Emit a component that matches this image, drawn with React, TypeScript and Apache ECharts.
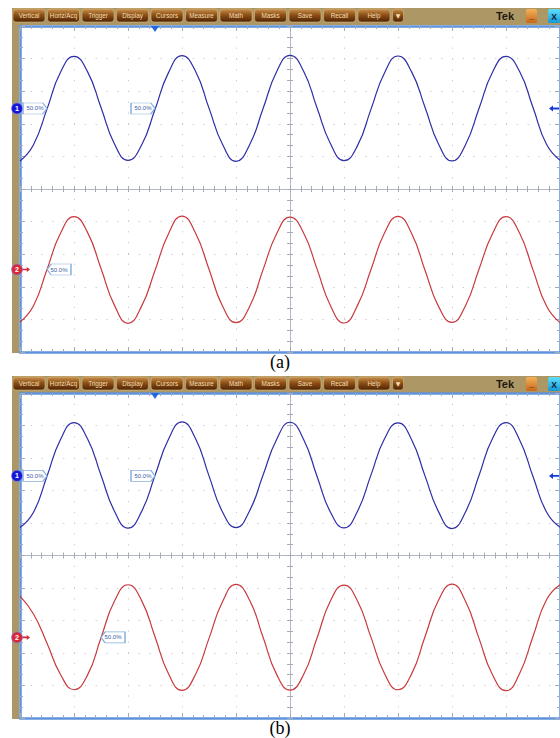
import React, { useEffect, useRef } from 'react';
import * as echarts from 'echarts';

// horizontal position in divisions (10 divisions, centre = 0)
const timeDiv = [
  -5, -4.75, -4.5, -4.25, -4, -3.75, -3.5, -3.25, -3, -2.75, -2.5, -2.25, -2, -1.75, -1.5, -1.25,
  -1, -0.75, -0.5, -0.25, 0, 0.25, 0.5, 0.75, 1, 1.25, 1.5, 1.75, 2, 2.25, 2.5, 2.75, 3, 3.25,
  3.5, 3.75, 4, 4.25, 4.5, 4.75, 5,
];

// (a) channel 1 (blue) and channel 2 (red), vertical divisions
const ch1A = [
  0.86, 1.36, 2.45, 3.58, 4.07, 3.6, 2.5, 1.38, 0.88, 1.34, 2.44, 3.57, 4.09, 3.61, 2.48, 1.37,
  0.85, 1.35, 2.46, 3.59, 4.1, 3.62, 2.49, 1.39, 0.87, 1.33, 2.45, 3.56, 4.08, 3.6, 2.51, 1.38,
  0.86, 1.36, 2.47, 3.58, 4.07, 3.61, 2.5, 1.37, 0.88,
];
const ch2A = [
  -4.08, -3.58, -2.47, -1.36, -0.85, -1.33, -2.44, -3.57, -4.12, -3.6, -2.5, -1.37, -0.83, -1.35,
  -2.46, -3.59, -4.1, -3.61, -2.48, -1.38, -0.86, -1.34, -2.45, -3.58, -4.11, -3.57, -2.47, -1.35,
  -0.84, -1.36, -2.49, -3.6, -4.09, -3.58, -2.46, -1.37, -0.85, -1.35, -2.48, -3.59, -4.1,
];
// (b)
const ch1B = [
  0.86, 1.33, 2.44, 3.57, 4.09, 3.59, 2.47, 1.36, 0.84, 1.35, 2.46, 3.58, 4.11, 3.6, 2.45, 1.34,
  0.86, 1.37, 2.47, 3.56, 4.1, 3.58, 2.44, 1.33, 0.85, 1.36, 2.48, 3.59, 4.08, 3.57, 2.45, 1.35,
  0.83, 1.34, 2.46, 3.6, 4.09, 3.56, 2.43, 1.34, 0.87,
];
const ch2B = [
  -1.25, -1.8, -2.7, -3.66, -4.13, -3.68, -2.53, -1.4, -0.9, -1.38, -2.5, -3.64, -4.15, -3.66,
  -2.55, -1.42, -0.89, -1.37, -2.51, -3.65, -4.14, -3.67, -2.54, -1.39, -0.91, -1.4, -2.52, -3.63,
  -4.13, -3.65, -2.5, -1.38, -0.88, -1.41, -2.55, -3.67, -4.16, -3.64, -2.49, -1.36, -0.9,
];

const menuItems = ['Vertical', 'Horiz/Acq', 'Trigger', 'Display', 'Cursors', 'Measure', 'Math', 'Masks', 'Save', 'Recall', 'Help', '▼'];
const captions = ['(a)', '(b)'];
const levelText = '50.0%';
const channelNames = ['1', '2'];
// channel reference levels (divisions) per panel
const levelsA = [2.47, -2.47];
const levelsB = [2.45, -2.52];
// where each trace crosses its 50 % level next to the label
const crossA = [-4.5, -4.5];
const crossB = [-4.5, -3.5];
const triggerPos = -2.5;

const BLUE = '#2e2ea6';
const RED = '#c83a3e';
const TAN = '#ad9765';
const BORDER = '#5f92dc';
const TICK = '#a3abb9';

function axes(gridIndex: number, dim: 'x' | 'y') {
  const isX = dim === 'x';
  const common: any = {
    type: 'value',
    gridIndex,
    min: -5,
    max: 5,
    interval: 1,
    axisLabel: { show: false },
    minorTick: { show: true, splitNumber: isX ? 5 : 3, length: 3, lineStyle: { color: TICK, width: 1 } },
  };
  const borderTick = { show: true, inside: true, length: 5, lineStyle: { color: TICK, width: 1 } };
  const centerTick = { show: true, inside: true, length: 3, lineStyle: { color: TICK, width: 1 } };
  const centerMinor = { show: true, splitNumber: isX ? 5 : 3, length: 3, lineStyle: { color: TICK, width: 1 } };
  return [
    {
      ...common,
      position: isX ? 'bottom' : 'left',
      axisLine: { show: true, onZero: false, lineStyle: { color: BORDER, width: 2.5 } },
      axisTick: borderTick,
      splitLine: { show: true, lineStyle: { color: '#c4c8cf', width: 1, type: [1.2, 9.6] } },
    },
    {
      ...common,
      position: isX ? 'top' : 'right',
      axisLine: { show: true, onZero: false, lineStyle: { color: BORDER, width: 2.5 } },
      axisTick: borderTick,
      splitLine: { show: false },
    },
    {
      ...common,
      position: isX ? 'bottom' : 'left',
      axisLine: { show: true, onZero: true, lineStyle: { color: '#b3b8c2', width: 1 } },
      axisTick: centerTick,
      minorTick: centerMinor,
      splitLine: { show: false },
    },
    {
      ...common,
      position: isX ? 'top' : 'right',
      axisLine: { show: false, onZero: true },
      axisTick: centerTick,
      minorTick: centerMinor,
      splitLine: { show: false },
    },
  ];
}

const labelRight = 'path://M0,0L19,0L23,5L19,10L0,10Z';
const labelLeft = 'path://M4,0L23,0L23,10L4,10L0,5Z';

function levelLabel(coord: number[], pointLeft: boolean) {
  return {
    coord,
    symbol: pointLeft ? labelLeft : labelRight,
    symbolSize: [24, 11],
    symbolOffset: [pointLeft ? 12 : -12, 0],
    itemStyle: { color: '#ffffff', borderColor: '#86aedb', borderWidth: 1 },
    label: { show: true, position: 'inside', formatter: levelText, fontSize: 6, color: '#3b5ea8', fontFamily: 'Liberation Sans' },
  };
}

function channelMarks(level: number, idx: number, color: string) {
  return [
    {
      coord: [-5, level],
      symbol: 'path://M0,2L6,2L6,0L10,3L6,6L6,4L0,4Z',
      symbolSize: [8, 5],
      symbolOffset: [6, 0],
      itemStyle: { color },
      label: { show: false },
    },
    {
      coord: [-5, level],
      symbol: 'circle',
      symbolSize: 11,
      symbolOffset: [-3, 0],
      itemStyle: { color, borderColor: '#7a8ae8', borderWidth: 0.6 },
      label: { show: true, position: 'inside', formatter: channelNames[idx], color: '#fff', fontSize: 7, fontWeight: 'bold', fontFamily: 'Liberation Sans' },
    },
  ];
}

function panelSeries(p: number, c1: number[], c2: number[], levels: number[], cross: number[]) {
  const ax = p * 4;
  const mk = (arr: number[]) => timeDiv.map((t, i) => [t, arr[i]]);
  return [
    {
      type: 'line',
      xAxisIndex: ax,
      yAxisIndex: ax,
      data: mk(c1),
      smooth: 0.5,
      showSymbol: false,
      lineStyle: { color: BLUE, width: 1.2 },
      markPoint: {
        silent: true,
        data: [
          ...channelMarks(levels[0], 0, '#1616d8'),
          levelLabel([cross[0], levels[0]], false),
          levelLabel([triggerPos, levels[0]], false),
          {
            coord: [5, levels[0]],
            symbol: 'path://M0,3L4,0L4,2L10,2L10,4L4,4L4,6Z',
            symbolSize: [10, 6],
            symbolOffset: [-6, 0],
            itemStyle: { color: '#1a3ad8' },
            label: { show: false },
          },
          {
            coord: [triggerPos, 5],
            symbol: 'triangle',
            symbolRotate: 180,
            symbolSize: [8, 6],
            symbolOffset: [0, 3],
            itemStyle: { color: '#2466e0' },
            label: { show: false },
          },
        ],
      },
    },
    {
      type: 'line',
      xAxisIndex: ax,
      yAxisIndex: ax,
      data: mk(c2),
      smooth: 0.5,
      showSymbol: false,
      lineStyle: { color: RED, width: 1.2 },
      markPoint: {
        silent: true,
        data: [...channelMarks(levels[1], 1, '#d8283a'), levelLabel([cross[1], levels[1]], true)],
      },
    },
  ];
}

function frameGraphics() {
  const els: any[] = [];
  const panelTops = [8, 376];
  const stripHeights = [345, 343];
  panelTops.forEach((top, p) => {
    els.push({ type: 'rect', silent: true, shape: { x: 12, y: top, width: 548, height: 17 }, style: { fill: TAN } });
    els.push({ type: 'rect', silent: true, shape: { x: 12, y: top, width: 7, height: stripHeights[p] }, style: { fill: TAN } });
    menuItems.forEach((label, i) => {
      const x = 13 + i * 34.5;
      const w = label === '▼' ? 11 : 32;
      els.push({
        type: 'rect',
        silent: true,
        shape: { x, y: top + 1, width: w, height: 13, r: 3 },
        style: {
          fill: new echarts.graphic.LinearGradient(0, 0, 0, 1, [
            { offset: 0, color: '#c99350' },
            { offset: 0.45, color: '#8e5016' },
            { offset: 1, color: '#4f2304' },
          ]),
          stroke: '#dcbb80',
          lineWidth: 0.6,
        },
      });
      els.push({
        type: 'text',
        silent: true,
        x: x + w / 2,
        y: top + 7.8,
        style: {
          text: label,
          fill: '#f4dfb4',
          fontSize: label === '▼' ? 6 : 6.3,
          fontFamily: label === '▼' ? 'DejaVu Sans' : 'Liberation Sans',
          align: 'center',
          verticalAlign: 'middle',
        },
      });
    });
    els.push({
      type: 'text',
      silent: true,
      x: 505,
      y: top + 8,
      style: { text: 'Tek', fill: '#1e1a14', fontSize: 11, fontWeight: 'bold', fontFamily: 'Liberation Sans', align: 'center', verticalAlign: 'middle' },
    });
    els.push({
      type: 'rect',
      silent: true,
      shape: { x: 526, y: top + 1, width: 11, height: 14, r: 1.5 },
      style: {
        fill: new echarts.graphic.LinearGradient(0, 0, 0, 1, [
          { offset: 0, color: '#f6b25a' },
          { offset: 1, color: '#c8661a' },
        ]),
      },
    });
    els.push({
      type: 'text',
      silent: true,
      x: 531.5,
      y: top + 8,
      style: { text: '_', fill: '#3a2210', fontSize: 9, fontWeight: 'bold', fontFamily: 'Liberation Sans', align: 'center', verticalAlign: 'middle' },
    });
    els.push({
      type: 'rect',
      silent: true,
      shape: { x: 548, y: top + 1, width: 12, height: 14, r: 1.5 },
      style: {
        fill: new echarts.graphic.LinearGradient(0, 0, 0, 1, [
          { offset: 0, color: '#5fe0fb' },
          { offset: 1, color: '#1498d6' },
        ]),
      },
    });
    els.push({
      type: 'text',
      silent: true,
      x: 554,
      y: top + 8.5,
      style: { text: 'X', fill: '#102030', fontSize: 8.5, fontWeight: 'bold', fontFamily: 'Liberation Sans', align: 'center', verticalAlign: 'middle' },
    });
  });
  const capY = [362, 728];
  captions.forEach((c, i) => {
    els.push({
      type: 'text',
      silent: true,
      x: 280,
      y: capY[i],
      style: { text: c, fill: '#000', fontSize: 18, fontFamily: 'Liberation Serif', align: 'center', verticalAlign: 'middle' },
    });
  });
  return els;
}

export default function App() {
  const ref = useRef<HTMLDivElement>(null);
  useEffect(() => {
    if (!ref.current) return;
    const chart = echarts.init(ref.current, undefined, { renderer: 'svg' });
    chart.setOption({
      animation: false,
      backgroundColor: '#ffffff',
      grid: [
        { left: 20, top: 26, width: 540, height: 326 },
        { left: 20, top: 393, width: 540, height: 325 },
      ],
      xAxis: [...axes(0, 'x'), ...axes(1, 'x')],
      yAxis: [...axes(0, 'y'), ...axes(1, 'y')],
      series: [...panelSeries(0, ch1A, ch2A, levelsA, crossA), ...panelSeries(1, ch1B, ch2B, levelsB, crossB)],
      graphic: { elements: frameGraphics() },
    });
    return () => chart.dispose();
  }, []);
  return <div ref={ref} style={{ position: 'absolute', left: 0, top: 0, width: 560, height: 738 }} />;
}
